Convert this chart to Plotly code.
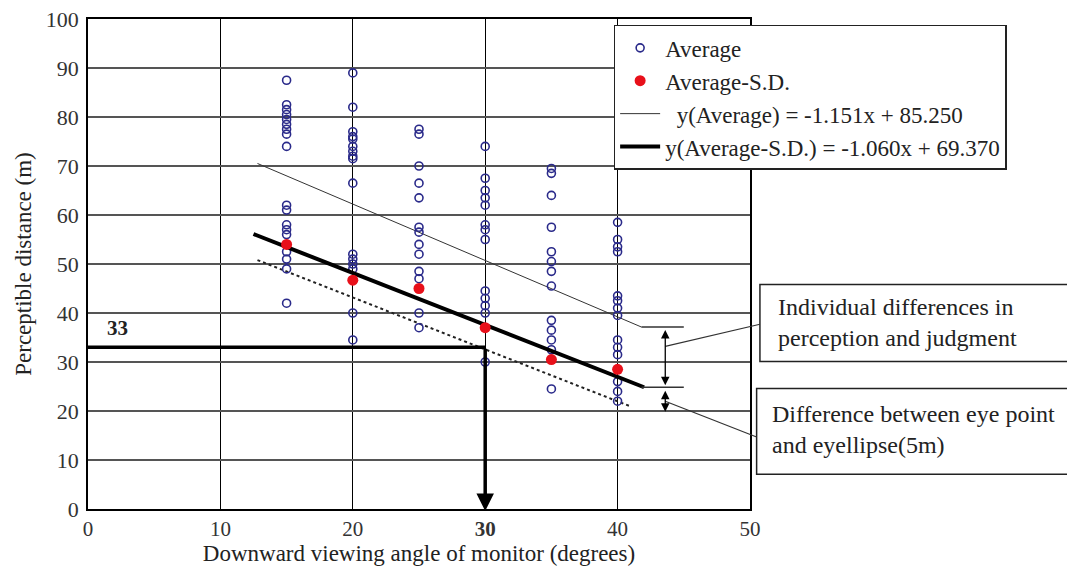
import plotly.graph_objects as go

# ---------------- data ----------------
angles = [15, 20, 25, 30, 35, 40]
avg_15 = [87.5, 82.5, 81.5, 80.5, 79.5, 78.5, 77.5, 76.5, 74, 62, 61, 58, 57, 56, 52.5, 51, 49, 42]
avg_20 = [89, 82, 77, 76, 75.5, 74, 73, 72, 71.5, 66.5, 52, 51, 50, 49, 40, 34.5]
avg_25 = [77.5, 76.5, 70, 66.5, 63.5, 57.5, 56.5, 54, 52, 48.5, 47, 40, 37]
avg_30 = [74, 67.5, 65, 63.5, 62, 58, 57, 55, 44.5, 43, 41.5, 40, 30]
avg_35 = [69.5, 68.5, 64, 57.5, 52.5, 50.5, 48.5, 45.5, 38.5, 36.5, 34.5, 32.5, 24.5]
avg_40 = [58.5, 55, 53.5, 52.5, 43.5, 42.5, 41, 39.5, 34.5, 33, 31.5, 26, 24, 22]
avg_sd = [54, 46.7, 45, 37, 30.5, 28.5]

slope_avg, icpt_avg = -1.151, 85.250
slope_sd, icpt_sd = -1.060, 69.370
eye_offset = 5
avg_line_x = [12.8, 41.8]
sd_line_x = [12.5, 42.0]
eye_line_x = [12.8, 41.0]
answer_angle, answer_dist = 30, 33

x_ticks = [0, 10, 20, 30, 40, 50]
x_ticktext = ["0", "10", "20", "<b>30</b>", "40", "50"]
y_ticks = list(range(0, 101, 10))

X_RANGE = [0, 50]
Y_RANGE = [0, 100]

FONT = "Liberation Serif"
TXT = "#222222"


def xp(x):
    return (x - X_RANGE[0]) / (X_RANGE[1] - X_RANGE[0])


def yp(y):
    return (y - Y_RANGE[0]) / (Y_RANGE[1] - Y_RANGE[0])


avg_x, avg_y = [], []
for a, vals in zip(angles, [avg_15, avg_20, avg_25, avg_30, avg_35, avg_40]):
    avg_x += [a] * len(vals)
    avg_y += vals

fig = go.Figure()

# thin regression line (Average)
fig.add_trace(go.Scatter(
    x=avg_line_x, y=[slope_avg * x + icpt_avg for x in avg_line_x],
    mode="lines", line=dict(color="#333333", width=1),
    name="  y(Average) = -1.151x + 85.250", legendrank=3, legendgroup="c"))

# dotted eye-point line
fig.add_trace(go.Scatter(
    x=eye_line_x, y=[slope_sd * x + icpt_sd - eye_offset for x in eye_line_x],
    mode="lines", line=dict(color="#222222", width=2, dash="dot"),
    showlegend=False, hoverinfo="skip"))

# Average points
fig.add_trace(go.Scatter(
    x=avg_x, y=avg_y, mode="markers",
    marker=dict(symbol="circle-open", size=8, color="#2a2a8a", line=dict(width=1.6)),
    name="Average", legendrank=1, legendgroup="a"))

# thick regression line (Average-S.D.)
fig.add_trace(go.Scatter(
    x=sd_line_x, y=[slope_sd * x + icpt_sd for x in sd_line_x],
    mode="lines", line=dict(color="black", width=4),
    name="y(Average-S.D.) = -1.060x + 69.370", legendrank=4, legendgroup="d"))

# Average-S.D. points
fig.add_trace(go.Scatter(
    x=angles, y=avg_sd, mode="markers",
    marker=dict(symbol="circle", size=11, color="#e8101a"),
    name="Average-S.D.", legendrank=2, legendgroup="b"))

# horizontal line at 33 m
fig.add_trace(go.Scatter(
    x=[X_RANGE[0], answer_angle], y=[answer_dist, answer_dist],
    mode="lines", line=dict(color="black", width=3.5),
    showlegend=False, hoverinfo="skip"))

# bracket ticks
top_y = slope_avg * avg_line_x[1] + icpt_avg
mid_y = slope_sd * sd_line_x[1] + icpt_sd
low_y = mid_y - eye_offset
tick_x = [41.8, 45.0]
for yy in [top_y, mid_y]:
    fig.add_trace(go.Scatter(
        x=tick_x, y=[yy, yy], mode="lines",
        line=dict(color="#333333", width=1.5),
        showlegend=False, hoverinfo="skip"))

arrow_x = 43.6
annotations = [
    # main downward arrow
    dict(x=answer_angle, y=-0.4, ax=answer_angle, ay=answer_dist, xref="x", yref="y",
         axref="x", ayref="y", text="", showarrow=True, arrowhead=2, arrowsize=1.0,
         arrowwidth=3.5, arrowcolor="black"),
    # double arrows of bracket
    dict(x=arrow_x, y=mid_y + 0.4, ax=arrow_x, ay=top_y - 0.3, xref="x", yref="y",
         axref="x", ayref="y", text="", showarrow=True, arrowhead=2, startarrowhead=2,
         arrowside="end+start", arrowsize=1.3, startarrowsize=1.3, arrowwidth=1.3,
         arrowcolor="black"),
    dict(x=arrow_x, y=low_y, ax=arrow_x, ay=mid_y - 0.4, xref="x", yref="y",
         axref="x", ayref="y", text="", showarrow=True, arrowhead=2, startarrowhead=2,
         arrowside="end+start", arrowsize=1.3, startarrowsize=1.3, arrowwidth=1.3,
         arrowcolor="black"),
    # "33" label
    dict(x=1.3, y=answer_dist + 1.0, xref="x", yref="y", text="<b>33</b>",
         showarrow=False, xanchor="left", yanchor="bottom",
         font=dict(family=FONT, size=21, color=TXT)),
    # box texts
    dict(x=xp(52.0), y=yp(38.1), xref="paper", yref="paper",
         text="Individual differences in<br>perception and judgment",
         showarrow=False, xanchor="left", yanchor="middle", align="left",
         font=dict(family=FONT, size=24, color=TXT)),
    dict(x=xp(51.5), y=yp(16.3), xref="paper", yref="paper",
         text="Difference between eye point<br>and eyellipse(5m)",
         showarrow=False, xanchor="left", yanchor="middle", align="left",
         font=dict(family=FONT, size=24, color=TXT)),
]

shapes = [
    # box 1
    dict(type="rect", xref="paper", yref="paper",
         x0=xp(50.75), x1=xp(74.2), y0=yp(30.1), y1=yp(45.8),
         line=dict(color="#222222", width=1.5), fillcolor="white"),
    # box 2
    dict(type="rect", xref="paper", yref="paper",
         x0=xp(50.5), x1=xp(74.6), y0=yp(7.1), y1=yp(24.6),
         line=dict(color="#222222", width=1.5), fillcolor="white"),
    # connectors
    dict(type="line", xref="paper", yref="paper",
         x0=xp(arrow_x), y0=yp(33.2), x1=xp(50.75), y1=yp(37.7),
         line=dict(color="#333333", width=1.2)),
    dict(type="line", xref="paper", yref="paper",
         x0=xp(arrow_x), y0=yp(22.0), x1=xp(50.5), y1=yp(14.7),
         line=dict(color="#333333", width=1.2)),
]

fig.update_layout(
    width=1067, height=561,
    margin=dict(l=80, r=325, t=11, b=60),
    plot_bgcolor="white", paper_bgcolor="white",
    font=dict(family=FONT, size=22, color=TXT),
    showlegend=True,
    legend=dict(x=xp(40) - 0.006, y=0.988, xanchor="left", yanchor="top",
                bgcolor="white", bordercolor="#222222", borderwidth=1.5,
                font=dict(family=FONT, size=23, color=TXT),
                tracegroupgap=0, itemwidth=40),
    annotations=annotations,
    shapes=shapes,
)

fig.update_xaxes(
    range=X_RANGE, tickvals=x_ticks, ticktext=x_ticktext,
    showgrid=True, gridcolor="black", gridwidth=1,
    showline=True, mirror=True, linecolor="black", linewidth=1.5,
    zeroline=False, ticks="", ticklabelstandoff=0,
    tickfont=dict(family=FONT, size=21, color="#333333"),
    title=dict(text="Downward viewing angle of monitor (degrees)", standoff=4,
               font=dict(family=FONT, size=23, color=TXT)),
    automargin=False)

fig.update_yaxes(
    range=Y_RANGE, tickvals=y_ticks, ticklabeloverflow="allow",
    showgrid=True, gridcolor="#555555", gridwidth=1.5,
    showline=True, mirror=True, linecolor="black", linewidth=1.5,
    zeroline=False, ticks="", ticklabelstandoff=3,
    tickfont=dict(family=FONT, size=22, color="#333333"),
    title=dict(text="Perceptible distance (m)", standoff=8,
               font=dict(family=FONT, size=23, color=TXT)),
    automargin=False)

fig.write_html("out.html")
